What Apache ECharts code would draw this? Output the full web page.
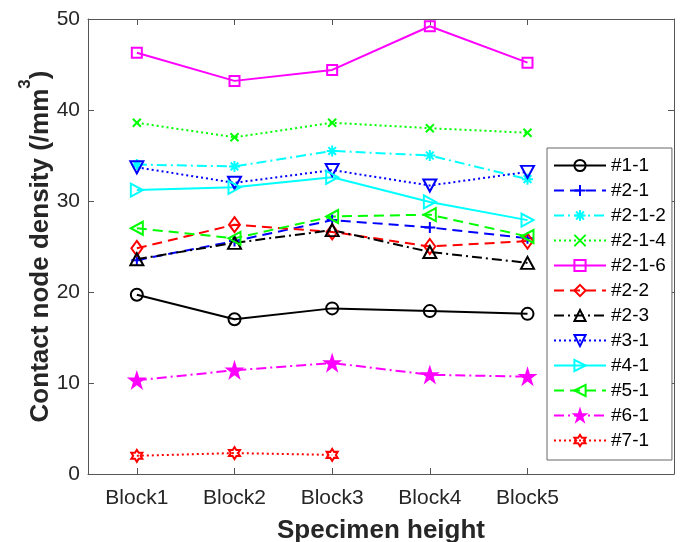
<!DOCTYPE html>
<html>
<head>
<meta charset="utf-8">
<script src="https://cdn.jsdelivr.net/npm/echarts@6/dist/echarts.min.js"></script>
<style>
html,body{margin:0;padding:0;background:#fff;}
#chart{width:683px;height:542px;}
</style>
</head>
<body>
<div id="chart"></div>
<script>
// ---- data ----
const categories = ['Block1', 'Block2', 'Block3', 'Block4', 'Block5'];
const yTicks = [0, 10, 20, 30, 40, 50];
const seriesNames = ['#1-1', '#2-1', '#2-1-2', '#2-1-4', '#2-1-6', '#2-2', '#2-3', '#3-1', '#4-1', '#5-1', '#6-1', '#7-1'];
const s1_1   = [19.7, 17.0, 18.2, 17.9, 17.6];
const s2_1   = [23.5, 25.6, 27.9, 27.1, 25.9];
const s2_1_2 = [34.0, 33.8, 35.5, 35.0, 32.4];
const s2_1_4 = [38.6, 37.0, 38.6, 38.0, 37.5];
const s2_1_6 = [46.3, 43.2, 44.4, 49.2, 45.2];
const s2_2   = [24.8, 27.4, 26.6, 25.0, 25.6];
const s2_3   = [23.6, 25.4, 26.8, 24.4, 23.2];
const s3_1   = [33.7, 32.0, 33.4, 31.7, 33.2];
const s4_1   = [31.2, 31.5, 32.6, 29.9, 27.9];
const s5_1   = [27.0, 25.9, 28.3, 28.5, 26.1];
const s6_1   = [10.3, 11.4, 12.2, 10.9, 10.7];
const s7_1   = [2.0, 2.3, 2.1];
const seriesValues = [s1_1, s2_1, s2_1_2, s2_1_4, s2_1_6, s2_2, s2_3, s3_1, s4_1, s5_1, s6_1, s7_1];

// ---- styles ----
const DASH = [10, 6];
const DOT = [2, 3];
const DASHDOT = [10, 4, 2, 4];
const star5 = 'path://M50,0L61.2,34.5L97.6,34.5L68.2,55.9L79.4,90.5L50,69.1L20.6,90.5L31.8,55.9L2.4,34.5L38.8,34.5Z';
const star6 = 'path://M50,0L64.4,25L93.3,25L78.9,50L93.3,75L64.4,75L50,100L35.6,75L6.7,75L21.1,50L6.7,25L35.6,25Z';
const styles = [
  {c:'#000000', t:'solid', sym:'circle', sz:12, fill:false},
  {c:'#0000ff', t:DASH, sym:'path://M5,0L5,10M0,5L10,5', sz:11, fill:false},
  {c:'#00ffff', t:DASHDOT, sym:'path://M5,0L5,10M0,5L10,5M1.5,1.5L8.5,8.5M8.5,1.5L1.5,8.5', sz:11, fill:false},
  {c:'#00ff00', t:DOT, sym:'path://M0,0L10,10M10,0L0,10', sz:8, fill:false},
  {c:'#ff00ff', t:'solid', sym:'rect', sz:10, fill:false},
  {c:'#ff0000', t:DASH, sym:'diamond', sz:[11,15], fill:false},
  {c:'#000000', t:DASHDOT, sym:'triangle', sz:[13,12], fill:false},
  {c:'#0000ff', t:DOT, sym:'path://M0,0L10,0L5,9Z', sz:[13,12], fill:false},
  {c:'#00ffff', t:'solid', sym:'path://M0,0L9,5L0,10Z', sz:[12,13], fill:false},
  {c:'#00ff00', t:DASH, sym:'path://M9,0L0,5L9,10Z', sz:[12,13], fill:false},
  {c:'#ff00ff', t:DASHDOT, sym:star5, sz:14, fill:true},
  {c:'#ff0000', t:DOT, sym:star6, sz:[11,12], fill:false}
];

const FONT = '"Liberation Sans", Arial, Helvetica, sans-serif';
const AX = '#555555';

const series = seriesNames.map((name, i) => {
  const s = styles[i];
  return {
    name: name,
    type: 'line',
    data: seriesValues[i],
    symbol: s.sym,
    symbolSize: s.sz,
    showAllSymbol: true,
    animation: false,
    lineStyle: {color: s.c, width: 2, type: s.t},
    itemStyle: {color: s.fill ? s.c : 'rgba(255,255,255,0)', borderColor: s.c, borderWidth: 2},
    emphasis: {disabled: true}
  };
});

const axisData = categories.concat(['']);
const tickShown = (idx) => idx < categories.length;
const chart = echarts.init(document.getElementById('chart'), null, {renderer: 'canvas'});
chart.setOption({
  backgroundColor: '#ffffff',
  animation: false,
  textStyle: {fontFamily: FONT},
  grid: {left: 88, right: 9, top: 19, bottom: 68, containLabel: false, outerBoundsMode: 'none'},
  legend: {
    orient: 'vertical',
    left: 547, top: 148,
    itemWidth: 52, itemHeight: 14, itemGap: 6,
    padding: [8, 6, 10, 6],
    borderColor: '#666', borderWidth: 1,
    backgroundColor: '#ffffff',
    textStyle: {fontSize: 19, lineHeight: 19, color: '#000', fontFamily: FONT},
    data: seriesNames
  },
  xAxis: [{
    type: 'category', data: axisData, position: 'bottom',
    boundaryGap: true,
    axisLine: {show: true, onZero: false, lineStyle: {color: AX, width: 1}},
    axisTick: {show: true, inside: true, length: 6, alignWithLabel: true, lineStyle: {color: AX}, interval: tickShown},
    axisLabel: {fontSize: 21, color: '#262626', margin: 14, fontFamily: FONT, interval: 0},
    splitLine: {show: false},
    name: 'Specimen height', nameLocation: 'middle', nameGap: 44, nameMoveOverlap: false,
    nameTextStyle: {fontSize: 26, fontWeight: 'bold', color: '#262626', fontFamily: FONT}
  }, {
    type: 'category', data: axisData, position: 'top',
    boundaryGap: true,
    axisLine: {show: true, onZero: false, lineStyle: {color: AX, width: 1}},
    axisTick: {show: true, inside: true, length: 6, alignWithLabel: true, lineStyle: {color: AX}, interval: tickShown},
    axisLabel: {show: false},
    splitLine: {show: false}
  }],
  yAxis: [{
    type: 'value', min: yTicks[0], max: yTicks[yTicks.length - 1], interval: 10, position: 'left',
    axisLine: {show: true, onZero: false, lineStyle: {color: AX, width: 1}},
    axisTick: {show: true, inside: true, length: 6, lineStyle: {color: AX}},
    axisLabel: {fontSize: 21, color: '#262626', margin: 8, fontFamily: FONT},
    splitLine: {show: false},
    name: '{b|Contact node density (/mm}{s|3}{b|)}',
    nameLocation: 'middle', nameGap: 34, nameRotate: 90, nameMoveOverlap: false,
    nameTextStyle: {
      fontFamily: FONT,
      rich: {
        b: {fontSize: 26, fontWeight: 'bold', color: '#262626', fontFamily: FONT, verticalAlign: 'bottom'},
        s: {fontSize: 17, fontWeight: 'bold', color: '#262626', fontFamily: FONT, verticalAlign: 'bottom', padding: [0, 0, 20, 0]}
      }
    }
  }, {
    type: 'value', min: yTicks[0], max: yTicks[yTicks.length - 1], interval: 10, position: 'right',
    axisLine: {show: true, onZero: false, lineStyle: {color: AX, width: 1}},
    axisTick: {show: true, inside: true, length: 6, lineStyle: {color: AX}},
    axisLabel: {show: false},
    splitLine: {show: false}
  }],
  series: series
});
</script>
</body>
</html>
